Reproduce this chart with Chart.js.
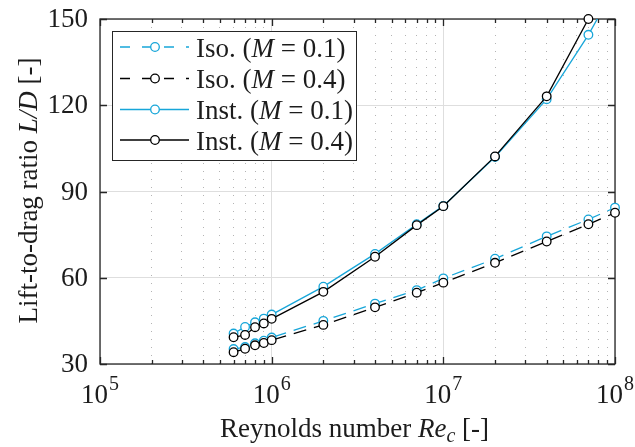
<!DOCTYPE html>
<html lang="en">
<head>
<meta charset="UTF-8" />
<title>Lift-to-drag ratio vs Reynolds number</title>
<script src="https://cdn.jsdelivr.net/npm/chart.js"></script>
<style>
  html, body { margin: 0; padding: 0; background: #fff; }
  #wrap { width: 635px; height: 447px; }
</style>
</head>
<body>
<div id="wrap"><canvas id="ldChart" width="635" height="447"></canvas></div>
<script>
// chord Reynolds numbers of the runs
const reynolds = [6e5, 7e5, 8e5, 9e5, 1e6, 2e6, 4e6, 7e6, 1e7, 2e7, 4e7, 7e7, 1e8];

// L/D, isothermal wall
const isoM01 = [35.2, 35.9, 37.2, 38.1, 39.2, 45.0, 51.0, 55.7, 59.8, 66.6, 74.4, 80.3, 84.4];
const isoM04 = [34.1, 35.3, 36.5, 37.3, 38.3, 43.6, 49.7, 54.8, 58.3, 65.2, 72.6, 78.6, 82.6];
// L/D, instationary
const instM01 = [40.6, 42.9, 44.5, 45.8, 47.2, 56.9, 68.3, 78.6, 85.0, 102.0, 122.1, 144.5, 161.0];
const instM04 = [39.3, 40.1, 42.8, 44.1, 45.7, 55.1, 67.3, 78.3, 84.9, 102.2, 123.1, 150.0, null];

const seriesNames = ['Iso.', 'Iso.', 'Inst.', 'Inst.'];
const machLabels = ['0.1', '0.4', '0.1', '0.4'];

const xDecades = [1e5, 1e6, 1e7, 1e8];
const xMinorSteps = [2, 3, 4, 5, 6, 7, 8, 9];
const yTicks = [30, 60, 90, 120, 150];

const CYAN = '#17a6d9';
const BLACK = '#000000';
const INK = '#1c1c1c';
const SERIF = '"Liberation Serif", "Times New Roman", serif';
const FS = 27;      // main text size
const FS_SMALL = 20; // exponents and subscripts

const xTicks = [];
xDecades.forEach((d, i) => {
  xTicks.push(d);
  if (i < xDecades.length - 1) xMinorSteps.forEach(m => xTicks.push(m * d));
});
const isDecade = v => xDecades.some(d => Math.abs(v / d - 1) < 1e-9);

const series = [
  { values: isoM01, color: CYAN, dash: [13, 8] },
  { values: isoM04, color: BLACK, dash: [13, 8] },
  { values: instM01, color: CYAN, dash: [] },
  { values: instM04, color: BLACK, dash: [] }
];

// each series: a clipped line plus unclipped open-circle markers
const datasets = [];
series.forEach((s, i) => {
  const pts = reynolds.map((r, j) => ({ x: r, y: s.values[j] }));
  const depth = (series.length - 1 - i) * 2;
  datasets.push({
    data: pts,
    showLine: true,
    borderColor: s.color,
    borderWidth: 1.3,
    borderDash: s.dash,
    pointRadius: 0,
    clip: 0,
    order: depth + 1
  });
  datasets.push({
    data: pts,
    showLine: false,
    pointStyle: 'circle',
    pointRadius: ctx => (ctx.raw && ctx.raw.y != null && ctx.raw.y <= 150 ? 4.3 : 0),
    pointBorderWidth: 1.3,
    pointBorderColor: s.color,
    pointBackgroundColor: '#ffffff',
    clip: false,
    order: depth
  });
});

function drawParts(ctx, parts, x, y, align) {
  // parts: [text, size, italic, baselineShift]
  const widths = parts.map(p => {
    ctx.font = (p[2] ? 'italic ' : '') + p[1] + 'px ' + SERIF;
    return ctx.measureText(p[0]).width;
  });
  const total = widths.reduce((a, b) => a + b, 0);
  let cx = align === 'center' ? x - total / 2 : x;
  parts.forEach((p, i) => {
    ctx.font = (p[2] ? 'italic ' : '') + p[1] + 'px ' + SERIF;
    ctx.fillText(p[0], cx, y + (p[3] || 0));
    cx += widths[i];
  });
}

const decorations = {
  id: 'decorations',
  beforeDatasetsDraw(chart) {
    const { ctx, chartArea: a, scales: { x, y } } = chart;
    ctx.save();
    ctx.strokeStyle = '#262626';
    ctx.lineWidth = 1.3;
    ctx.setLineDash([]);
    ctx.beginPath();
    xTicks.forEach(v => {
      const px = Math.round(x.getPixelForValue(v)) + 0.5;
      const len = isDecade(v) ? 7 : 4;
      ctx.moveTo(px, a.bottom); ctx.lineTo(px, a.bottom - len);
      ctx.moveTo(px, a.top); ctx.lineTo(px, a.top + len);
    });
    yTicks.forEach(v => {
      const py = Math.round(y.getPixelForValue(v)) + 0.5;
      ctx.moveTo(a.left, py); ctx.lineTo(a.left + 7, py);
      ctx.moveTo(a.right, py); ctx.lineTo(a.right - 7, py);
    });
    ctx.stroke();
    ctx.strokeRect(a.left, a.top, a.right - a.left, a.bottom - a.top);
    ctx.restore();
  },
  afterDraw(chart) {
    const { ctx, chartArea: a, scales: { x, y } } = chart;
    ctx.save();
    ctx.fillStyle = INK;

    // y tick labels
    ctx.font = FS + 'px ' + SERIF;
    ctx.textAlign = 'right';
    ctx.textBaseline = 'middle';
    yTicks.forEach(v => ctx.fillText(String(v), a.left - 12, y.getPixelForValue(v) + 1));

    // x tick labels, 10^n
    ctx.textAlign = 'left';
    ctx.textBaseline = 'alphabetic';
    xDecades.forEach(d => {
      const exp = String(Math.round(Math.log10(d)));
      ctx.font = FS + 'px ' + SERIF;
      const wb = ctx.measureText('10').width;
      ctx.font = FS_SMALL + 'px ' + SERIF;
      const we = ctx.measureText(exp).width;
      const x0 = x.getPixelForValue(d) - (wb + 1 + we) / 2;
      ctx.font = FS + 'px ' + SERIF;
      ctx.fillText('10', x0, 403);
      ctx.font = FS_SMALL + 'px ' + SERIF;
      ctx.fillText(exp, x0 + wb + 1, 390);
    });

    // axis titles
    drawParts(ctx, [['Reynolds number ', FS, false], ['Re', FS, true], ['c', FS_SMALL, true, 5], [' [-]', FS, false]],
      (a.left + a.right) / 2 - 3, 437, 'center');
    ctx.save();
    ctx.translate(37, (a.top + a.bottom) / 2 - 1);
    ctx.rotate(-Math.PI / 2);
    drawParts(ctx, [['Lift-to-drag ratio ', FS, false], ['L/D', FS, true], [' [-]', FS, false]], 0, 0, 'center');
    ctx.restore();

    // legend
    const bx = 112.5, by = 31.5, bw = 244, bh = 129;
    ctx.fillStyle = '#ffffff';
    ctx.fillRect(bx, by, bw, bh);
    ctx.strokeStyle = '#262626';
    ctx.lineWidth = 1;
    ctx.strokeRect(bx, by, bw, bh);
    const rowY = [47, 78.5, 109.5, 140];
    series.forEach((s, i) => {
      const ry = rowY[i];
      ctx.strokeStyle = s.color;
      ctx.lineWidth = 1.3;
      ctx.setLineDash(s.dash.length ? [10, 12] : []);
      ctx.beginPath();
      ctx.moveTo(120, ry); ctx.lineTo(189, ry);
      ctx.stroke();
      ctx.setLineDash([]);
      ctx.beginPath();
      ctx.arc(155, ry, 4.3, 0, Math.PI * 2);
      ctx.fillStyle = '#ffffff';
      ctx.fill();
      ctx.stroke();
      ctx.fillStyle = INK;
      drawParts(ctx, [[seriesNames[i] + ' (', FS, false], ['M', FS, true], [' = ' + machLabels[i] + ')', FS, false]],
        196, ry + 9.5, 'left');
    });
    ctx.restore();
  }
};

new Chart(document.getElementById('ldChart'), {
  type: 'scatter',
  data: { datasets },
  options: {
    responsive: false,
    animation: false,
    devicePixelRatio: 1,
    layout: { padding: { left: 100, right: 20, top: 19, bottom: 83 } },
    plugins: { legend: { display: false }, tooltip: { enabled: false } },
    scales: {
      x: {
        type: 'logarithmic',
        min: 1e5,
        max: 1e8,
        afterBuildTicks: s => { s.ticks = xTicks.map(v => ({ value: v })); },
        afterFit: s => { s.height = 0; },
        ticks: { display: false },
        border: {
          display: false,
          dash: ctx => (ctx.tick && isDecade(ctx.tick.value) ? [] : [1, 7])
        },
        grid: {
          drawTicks: false,
          lineWidth: 1,
          color: ctx => (ctx.tick && isDecade(ctx.tick.value) ? '#dedede' : '#b4b4b4')
        }
      },
      y: {
        min: 30,
        max: 150,
        afterBuildTicks: s => { s.ticks = yTicks.map(v => ({ value: v })); },
        afterFit: s => { s.width = 0; },
        ticks: { display: false },
        border: { display: false },
        grid: { drawTicks: false, lineWidth: 1, color: '#dedede' }
      }
    }
  },
  plugins: [decorations]
});
</script>
</body>
</html>
